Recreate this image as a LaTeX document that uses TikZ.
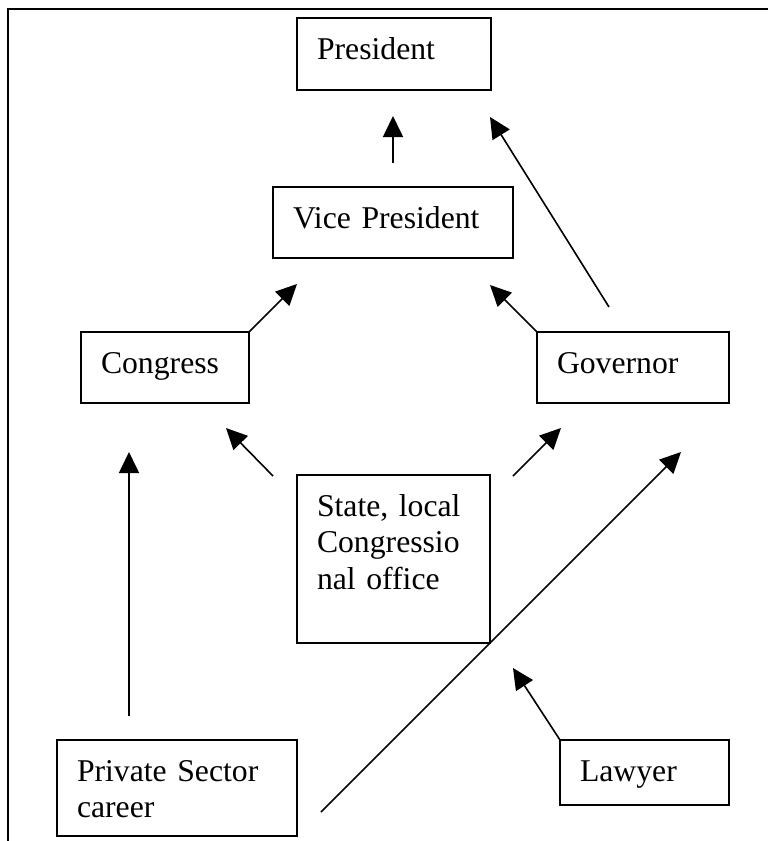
\documentclass[tikz,border=0pt]{standalone}
\usepackage{fontspec}
\setmainfont{Liberation Serif}
\usetikzlibrary{arrows.meta}
\begin{document}
\begin{tikzpicture}[x=1pt,y=-1pt,
  box/.style={draw, line width=1.7pt, anchor=north west, outer sep=0pt,
    inner xsep=20pt, inner ysep=0pt, text height=41pt, align=left,
    font=\fontsize{31.7}{36.5}\selectfont},
  arr/.style={line width=1.6pt, -{Triangle[length=21pt,width=20pt]}},
  frameline/.style={line width=1.7pt}]
\useasboundingbox (0,0) rectangle (768,841);
\draw[frameline] (768,9) -- (8,9) -- (8,841);

\node[box, text width=154pt, text depth=31pt] (pres) at (297,18) {President};
\node[box, text width=200pt, text depth=30pt] (vp) at (273,187) {Vice President};
\node[box, text width=128pt, text depth=30pt] (cong) at (81,332) {Congress};
\node[box, text width=152pt, text depth=30pt] (gov) at (537,332) {Governor};
\node[box, text width=153pt, text depth=127pt] (state) at (297,475) {State, local\\Congressio\\nal office};
\node[box, text width=200pt, text depth=55pt] (priv) at (57,740) {Private Sector\\career};
\node[box, text width=129pt, text depth=24pt] (law) at (560,740) {Lawyer};

\coordinate (vpOut) at (393,163);
\coordinate (presIn) at (393,116);
\coordinate (govOutP) at (609,307);
\coordinate (presInG) at (490,117);
\coordinate (vpInC) at (297,284);
\coordinate (vpInG) at (490,285);
\coordinate (stateOutC) at (273,476);
\coordinate (congInS) at (226,428);
\coordinate (stateOutG) at (513,476);
\coordinate (govInS) at (561,428);
\coordinate (privOutC) at (129,716);
\coordinate (congInP) at (129,452);
\coordinate (privOutG) at (321,812);
\coordinate (govInP) at (681,452);
\coordinate (stateInL) at (513,668);

\draw[arr] (vpOut) -- (presIn);
\draw[arr] (govOutP) -- (presInG);
\draw[arr] (cong.north east) -- (vpInC);
\draw[arr] (gov.north west) -- (vpInG);
\draw[arr] (stateOutC) -- (congInS);
\draw[arr] (stateOutG) -- (govInS);
\draw[arr] (privOutC) -- (congInP);
\draw[arr] (privOutG) -- (govInP);
\draw[arr] (law.north west) -- (stateInL);
\end{tikzpicture}
\end{document}
